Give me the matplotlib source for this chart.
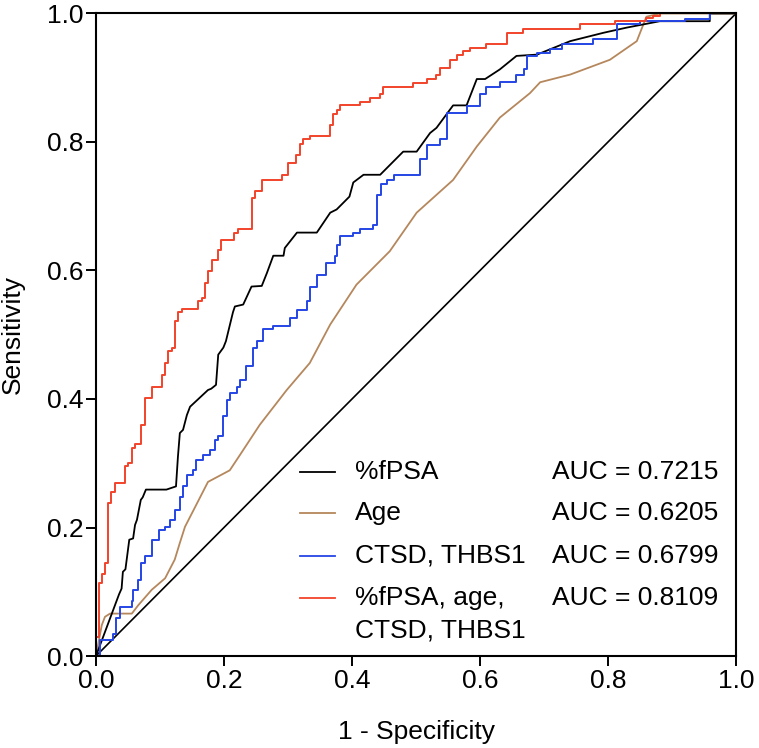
import matplotlib
matplotlib.use('Agg')
import matplotlib.pyplot as plt

plt.rcParams['font.family'] = ['Liberation Sans', 'DejaVu Sans']

# ROC curves (1 - specificity, sensitivity)
# %fPSA and Age are drawn as polylines, the other two as step curves
fpsa_x = [0, 0.036, 0.040, 0.042, 0.046, 0.052, 0.058, 0.061, 0.064, 0.070, 0.073, 0.078,
          0.110, 0.125, 0.128, 0.131, 0.136, 0.142, 0.147, 0.175, 0.180, 0.1875, 0.191,
          0.199, 0.203, 0.214, 0.217, 0.230, 0.243, 0.259, 0.267, 0.277, 0.293, 0.295,
          0.314, 0.345, 0.366, 0.376, 0.396, 0.402, 0.418, 0.444, 0.480, 0.501, 0.522,
          0.532, 0.558, 0.579, 0.595, 0.608, 0.631, 0.657, 0.689, 0.741, 0.793, 0.829,
          0.881, 0.959, 0.959, 1.0]
fpsa_y = [0, 0.096, 0.105, 0.131, 0.135, 0.181, 0.183, 0.204, 0.212, 0.243, 0.247, 0.259,
          0.259, 0.264, 0.310, 0.347, 0.352, 0.375, 0.388, 0.414, 0.416, 0.422, 0.469,
          0.480, 0.490, 0.535, 0.544, 0.547, 0.575, 0.576, 0.596, 0.623, 0.623, 0.635,
          0.659, 0.659, 0.690, 0.695, 0.715, 0.737, 0.749, 0.749, 0.785, 0.785, 0.814,
          0.822, 0.857, 0.857, 0.898, 0.898, 0.913, 0.934, 0.936, 0.957, 0.970, 0.978,
          0.988, 0.988, 1.0, 1.0]

age_x = [0, 0.009, 0.014, 0.022, 0.056, 0.066, 0.087, 0.108, 0.123, 0.131, 0.139, 0.175,
         0.209, 0.225, 0.256, 0.298, 0.334, 0.366, 0.407, 0.459, 0.501, 0.558, 0.595,
         0.631, 0.678, 0.694, 0.741, 0.803, 0.845, 0.860, 0.881, 1.0]
age_y = [0, 0.048, 0.061, 0.066, 0.066, 0.079, 0.103, 0.121, 0.150, 0.176, 0.201, 0.271,
         0.289, 0.313, 0.360, 0.414, 0.456, 0.516, 0.578, 0.630, 0.690, 0.741, 0.793,
         0.838, 0.876, 0.893, 0.905, 0.928, 0.957, 0.995, 1.0, 1.0]

ctsd_x = [0, 0.006, 0.027, 0.032, 0.0375, 0.056, 0.058, 0.065, 0.071, 0.077, 0.087, 0.098,
          0.108, 0.116, 0.123, 0.131, 0.136, 0.142, 0.152, 0.157, 0.167, 0.178, 0.186,
          0.191, 0.199, 0.204, 0.210, 0.220, 0.225, 0.235, 0.246, 0.251, 0.261, 0.277,
          0.303, 0.314, 0.329, 0.334, 0.345, 0.360, 0.373, 0.376, 0.381, 0.402, 0.4125,
          0.433, 0.439, 0.446, 0.454, 0.465, 0.506, 0.517, 0.5375, 0.548, 0.579, 0.600,
          0.610, 0.631, 0.657, 0.668, 0.673, 0.689, 0.709, 0.728, 0.777, 0.814, 0.850,
          0.920, 0.959, 1.0]
ctsd_y = [0, 0.025, 0.035, 0.059, 0.077, 0.085, 0.103, 0.118, 0.144, 0.155, 0.181, 0.196,
          0.201, 0.212, 0.227, 0.248, 0.264, 0.282, 0.290, 0.305, 0.313, 0.321, 0.336,
          0.342, 0.373, 0.399, 0.410, 0.419, 0.430, 0.451, 0.479, 0.490, 0.509, 0.514,
          0.526, 0.539, 0.552, 0.575, 0.593, 0.612, 0.623, 0.640, 0.653, 0.658, 0.665,
          0.671, 0.718, 0.734, 0.741, 0.749, 0.773, 0.796, 0.804, 0.845, 0.856, 0.874,
          0.886, 0.893, 0.905, 0.913, 0.934, 0.939, 0.944, 0.952, 0.960, 0.983, 0.988,
          0.991, 1.0, 1.0]

combo_x = [0, 0.005, 0.009, 0.014, 0.019, 0.024, 0.030, 0.045, 0.050, 0.056, 0.061, 0.071,
           0.077, 0.087, 0.103, 0.108, 0.113, 0.118, 0.123, 0.128, 0.134, 0.160, 0.165,
           0.170, 0.175, 0.181, 0.191, 0.196, 0.216, 0.222, 0.243, 0.248, 0.259, 0.290,
           0.300, 0.313, 0.319, 0.324, 0.334, 0.366, 0.371, 0.376, 0.381, 0.413, 0.428,
           0.444, 0.449, 0.496, 0.517, 0.532, 0.538, 0.553, 0.564, 0.574, 0.584, 0.610,
           0.642, 0.667, 0.756, 0.811, 0.860, 0.870, 0.881, 1.0]
combo_y = [0.03, 0.114, 0.128, 0.144, 0.238, 0.256, 0.270, 0.295, 0.300, 0.324, 0.330, 0.360,
           0.401, 0.419, 0.438, 0.456, 0.474, 0.479, 0.521, 0.535, 0.540, 0.552, 0.557,
           0.581, 0.599, 0.617, 0.632, 0.647, 0.659, 0.665, 0.713, 0.723, 0.741, 0.749,
           0.767, 0.780, 0.797, 0.804, 0.809, 0.826, 0.843, 0.850, 0.857, 0.863, 0.869,
           0.875, 0.886, 0.892, 0.898, 0.905, 0.915, 0.928, 0.935, 0.941, 0.947, 0.953,
           0.970, 0.976, 0.983, 0.989, 0.993, 0.996, 1.0, 1.0]

labels = ['%fPSA', 'Age', 'CTSD, THBS1', '%fPSA, age,\nCTSD, THBS1']
aucs = [0.7215, 0.6205, 0.6799, 0.8109]
colors = ['black', '#B5875C', '#2545E6', '#F2432B']
ticks = [0.0, 0.2, 0.4, 0.6, 0.8, 1.0]

FS = 19

fig = plt.figure(figsize=(7.59, 7.48), dpi=100)
ax = fig.add_axes([96 / 759, 92 / 748, 640 / 759, 642.5 / 748])

ax.plot([0, 1], [0, 1], color='black', lw=1.2)
ax.plot(age_x, age_y, color=colors[1], lw=1.3)
ax.plot(fpsa_x, fpsa_y, color=colors[0], lw=1.3)
ax.step(ctsd_x, ctsd_y, where='post', color=colors[2], lw=1.4)
ax.step(combo_x, combo_y, where='post', color=colors[3], lw=1.4)

ax.set_xlim(0, 1)
ax.set_ylim(0, 1)
ax.set_xticks(ticks)
ax.set_yticks(ticks)
ax.set_xticklabels([f'{t:.1f}' for t in ticks])
ax.set_yticklabels([f'{t:.1f}' for t in ticks])
ax.tick_params(direction='out', length=7, width=1.4, labelsize=FS, pad=2)
for s in ax.spines.values():
    s.set_linewidth(1.5)

ax.set_xlabel('1 - Specificity', fontsize=FS, labelpad=20)
ax.set_ylabel('Sensitivity', fontsize=FS, labelpad=16)

# legend drawn by hand: short line, name, AUC value
rows = [0.287, 0.222, 0.156, 0.090]
line_step = 0.051
for yy, lab, auc, c in zip(rows, labels, aucs, colors):
    ax.plot([0.319, 0.373], [yy, yy], color=c, lw=1.3, transform=ax.transAxes)
    for i, part in enumerate(lab.split('\n')):
        ax.text(0.405, yy - i * line_step, part, fontsize=FS, va='center',
                transform=ax.transAxes)
    ax.text(0.7125, yy, f'AUC = {auc:.4f}', fontsize=FS, va='center',
            transform=ax.transAxes)

fig.savefig('out.png', dpi=100)
